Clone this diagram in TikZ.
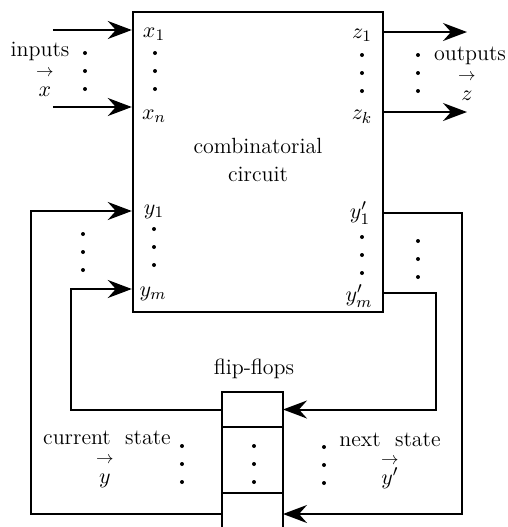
\documentclass[tikz,border=0pt]{standalone}
\usepackage{amsmath,amssymb}
\usepackage{graphicx}
\usepackage{tikz}
\usetikzlibrary{arrows.meta,positioning,calc}

\newcommand{\dotcol}[2]{\foreach \k in {0,1,2} \fill (#1,#2+18*\k) circle[radius=1pt];}
\newcommand{\vecup}[1]{\scalebox{0.8}{$\rightarrow$}\\[-4pt]$#1$}

\begin{document}
\begin{tikzpicture}[
  x=0.5pt,y=-0.5pt,
  font=\fontsize{11}{14}\selectfont,
  block/.style={draw,line width=1.2pt,minimum width=125pt,minimum height=150pt,inner sep=0pt},
  cell/.style={draw,line width=1.2pt,minimum width=30.5pt,inner sep=0pt,outer sep=0pt},
  arr/.style={-{Stealth[length=12pt,width=9pt,inset=4pt]},line width=1pt},
  lbl/.style={inner sep=0.5pt},
  vlbl/.style={inner sep=0.5pt,align=center},
]
\useasboundingbox (0,0) rectangle (508,527);

% combinatorial circuit
\node[block] (cc) at (258,162) {};
\node[align=center] (cclbl) at (258,160) {combinatorial\\circuit};

% flip-flops
\node[cell,minimum height=17.5pt] (ff1) at (252.5,409.5) {};
\node[cell,minimum height=33pt,below=0pt of ff1] (ff2) {};
\node[cell,minimum height=21pt,below=0pt of ff2] (ff3) {};
\node (fflbl) at (254,369) {flip-flops};

% port labels
\node (x1) at (154,34) {$x_1$};
\node (xn) at (154,116) {$x_n$};
\node (z1) at (362,35) {$z_1$};
\node (zk) at (362,117) {$z_k$};
\node (y1) at (154,212) {$y_1$};
\node (ym) at (153,294) {$y_m$};
\node (yp1) at (360,213) {$y'_1$};
\node (ypm) at (359,296) {$y'_m$};

% group labels
\node[lbl] (inlbl) at (40,51) {inputs};
\node[vlbl] (invec) at (45,83) {\vecup{x}};
\node[lbl] (outlbl) at (470,56) {outputs};
\node[vlbl] (outvec) at (467,87) {\vecup{z}};
\node[lbl] (curlbl) at (107,438) {current\ \ state};
\node[vlbl] (curvec) at (105,472) {\vecup{y}};
\node[lbl] (nxtlbl) at (390,440) {next\ \ state};
\node[vlbl] (nxtvec) at (390,473) {\vecup{y'}};

% inputs and outputs
\coordinate (xin1) at (53,30);
\coordinate (xinn) at (53,107);
\coordinate (zout1) at (467,32);
\coordinate (zoutk) at (467,112);
\draw[arr] (xin1) -- (xin1 -| cc.west);
\draw[arr] (xinn) -- (xinn -| cc.west);
\draw[arr] (zout1 -| cc.east) -- (zout1);
\draw[arr] (zoutk -| cc.east) -- (zoutk);

% feedback loops
\coordinate (lo) at (31,211);
\coordinate (li) at (71,289);
\coordinate (ro) at (462,213);
\coordinate (ri) at (436,293);
\draw[arr] (ff3.west) -| (lo) -- (lo -| cc.west);
\draw[arr] (ff1.west) -| (li) -- (li -| cc.west);
\draw[arr] (cc.east |- ro) -- (ro) |- (ff3.east);
\draw[arr] (cc.east |- ri) -- (ri) |- (ff1.east);

% dots
\dotcol{85}{53}
\dotcol{155}{53}
\dotcol{362}{55}
\dotcol{418}{55}
\dotcol{83}{234}
\dotcol{154}{229}
\dotcol{362}{237}
\dotcol{418}{241}
\dotcol{182}{446}
\dotcol{254}{446}
\dotcol{324}{447}

\end{tikzpicture}
\end{document}
